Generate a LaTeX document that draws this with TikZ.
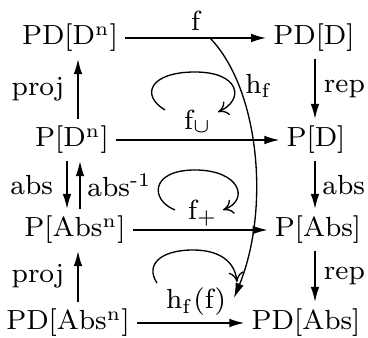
\documentclass[tikz,border=0pt]{standalone}
\usepackage{amsmath}
\usepackage{xcolor}
\usepackage{tikz}
\usetikzlibrary{arrows.meta}

\begin{document}
\begin{tikzpicture}[x=0.3pt, y=-0.3pt,
    every node/.style={inner sep=2pt, font=\fontsize{8.3}{10}\selectfont},
    mapto/.style={thin, -{Latex[length=4.5pt,width=2.6pt]}},
    loopto/.style={thin, -{To[length=3pt,width=4.5pt]}},
    lbl/.style={inner sep=1pt}]
    \useasboundingbox (0,0) rectangle (368,338);
    % objects
    \node (pdn) at (70,38) {PD[D\textsuperscript{n}]};
    \node (pd) at (314,38) {PD[D]};
    \node (pn) at (72,140) {P[D\textsuperscript{n}]};
    \node (p) at (316,140) {P[D]};
    \node (pan) at (75,230) {P[Abs\textsuperscript{n}]};
    \node (pa) at (318,230) {P[Abs]};
    \node (pdan) at (68,323) {PD[Abs\textsuperscript{n}]};
    \node (pda) at (306,323) {PD[Abs]};
    % columns of the vertical maps
    \coordinate (lc) at (78,0);
    \coordinate (ld) at (67,0);
    \coordinate (lu) at (80,0);
    \coordinate (rc) at (315,0);
    % horizontal maps
    \draw[mapto] (pdn) -- (pd) node[lbl, midway, above=1pt] {f};
    \draw[mapto] (pn) -- (p) node[lbl, midway, above=1pt] {f$_\cup$};
    \draw[mapto] (pan) -- (pa) node[lbl, pos=0.52, above=0pt] {f$_+$};
    \draw[mapto] (pdan) -- (pda) node[lbl, pos=0.55, above=1pt] {h$_{\mathrm{f}}$(f)};
    % vertical maps
    \draw[mapto] (pn.north -| lc) -- (pdn.south -| lc) node[lbl, midway, left=3pt] {proj};
    \draw[mapto] (pn.south -| ld) -- (pan.north -| ld) node[lbl, midway, left=3pt] {abs};
    \draw[mapto] (pan.north -| lu) -- (pn.south -| lu) node[lbl, midway, right=1pt] {abs\textsuperscript{-1}};
    \draw[mapto] (pdan.north -| lc) -- (pan.south -| lc) node[lbl, midway, left=3pt] {proj};
    \draw[mapto] (pd.south -| rc) -- (p.north -| rc) node[lbl, midway, right=1.5pt] {rep};
    \draw[mapto] (p.south -| rc) -- (pa.north -| rc) node[lbl, midway, right=1pt] {abs};
    \draw[mapto] (pa.south -| rc) -- (pda.north -| rc) node[lbl, midway, right=1.5pt] {rep};
    % h_f
    \coordinate (hs) at (210,38);
    \coordinate (he) at (234,298);
    \draw[mapto] (hs) .. controls (260,90) and (270,210) .. (he);
    \node[lbl] (hf) at (259,86) {h$_{\mathrm{f}}$};
    % loops
    \draw[loopto] (165,110) .. controls (140,95) and (150,72) .. (195,72)
        .. controls (240,72) and (245,100) .. (218,112);
    \draw[loopto] (175,210) .. controls (150,200) and (150,170) .. (195,170)
        .. controls (240,170) and (250,200) .. (223,210);
    \draw[loopto] (157,283) .. controls (145,265) and (160,250) .. (193,250)
        .. controls (220,250) and (235,262) .. (237,282);
\end{tikzpicture}
\end{document}
